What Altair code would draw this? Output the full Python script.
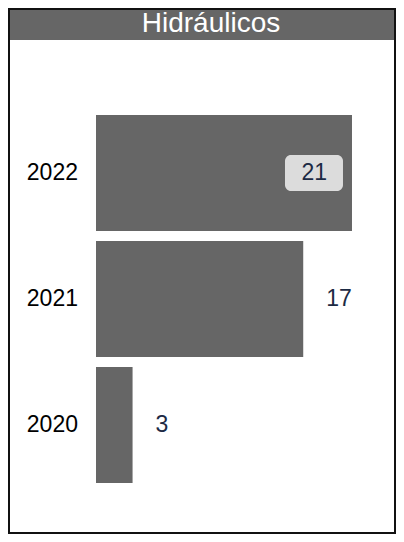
import altair as alt
import pandas as pd

years = ["2022", "2021", "2020"]
values = [21, 17, 3]
title_text = "Hidráulicos"

df = pd.DataFrame({"year": years, "value": values})

W, H = 386, 524
px_per_unit = 12.19
zero_px = 87
xdom = [-zero_px / px_per_unit, (W - zero_px) / px_per_unit]

xs = alt.Scale(domain=xdom, nice=False, zero=False)
ys = alt.Scale(domain=years, range=[101, 479], paddingInner=10 / 126, paddingOuter=5 / 126)

base = alt.Chart(df)
X = alt.X("value:Q", scale=xs, axis=None)
Y = alt.Y("year:N", scale=ys, axis=None, sort=years)

FONT = "Liberation Sans"

bars = base.mark_bar(color="#666666").encode(x=X, x2=alt.datum(0), y=Y)

ylabels = base.mark_text(align="right", baseline="middle", fontSize=23,
                         font=FONT, color="#000000").encode(
    x=alt.value(69), y=Y, text="year:N")

max_t = base.transform_joinaggregate(vmax="max(value)")
inside = max_t.transform_filter("datum.value == datum.vmax")
outside = max_t.transform_filter("datum.value < datum.vmax")

box = inside.transform_calculate(v2="datum.value").mark_bar(
    height=36, cornerRadius=6, color="#dcdcdc", xOffset=-67, x2Offset=-9
).encode(x=X, x2="v2:Q", y=Y)

in_text = inside.mark_text(align="right", baseline="middle", dx=-25, fontSize=23,
                           font=FONT, color="#1c2a44").encode(
    x=X, y=Y, text="value:Q")

out_text = outside.mark_text(align="left", baseline="middle", dx=23, fontSize=23,
                             font=FONT, color="#1c2a44").encode(
    x=X, y=Y, text="value:Q")

title_bar = alt.Chart(pd.DataFrame({"t": [title_text]})).mark_rect(color="#666666").encode(
    x=alt.value(1), x2=alt.value(W - 1), y=alt.value(1), y2=alt.value(31))

title = alt.Chart(pd.DataFrame({"t": [title_text]})).mark_text(
    align="center", baseline="alphabetic", fontSize=28, font=FONT,
    color="#ffffff").encode(x=alt.value(202), y=alt.value(23), text="t:N")

chart = alt.layer(title_bar, title, bars, box, in_text, out_text, ylabels).properties(
    width=W, height=H, padding=1, autosize=alt.AutoSizeParams(type="none"),
    background="#ffffff"
).configure_view(stroke="#111111", strokeWidth=2)

chart.save("out.html", embed_options={"renderer": "svg", "actions": False})
